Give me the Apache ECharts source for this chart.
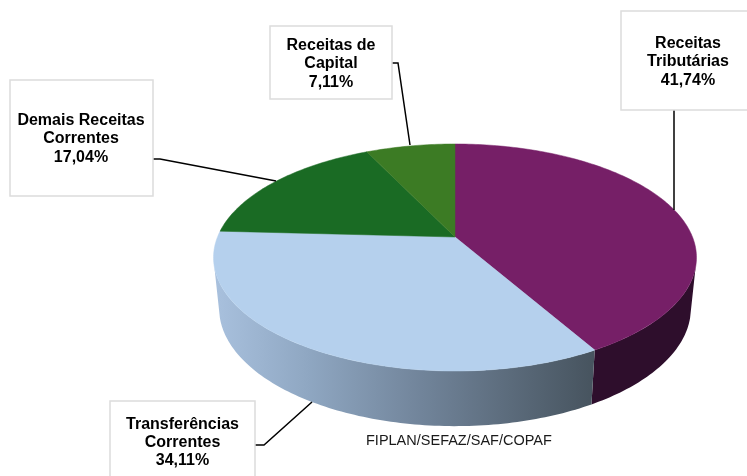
<!DOCTYPE html>
<html>
<head>
<meta charset="utf-8">
<style>
  html, body { margin: 0; padding: 0; background: #fff; }
  #chart { width: 747px; height: 476px; }
</style>
</head>
<body>
<div id="chart"></div>
<script src="https://cdn.jsdelivr.net/npm/echarts@6/dist/echarts.min.js"></script>
<script>
// dados
const categories = ['Receitas\nTributárias', 'Transferências\nCorrentes', 'Demais Receitas\nCorrentes', 'Receitas de\nCapital'];
const values = [41.74, 34.11, 17.04, 7.11];
const sourceText = 'FIPLAN/SEFAZ/SAF/COPAF';

// estilo
const topColors = ['#761f67', '#b5d0ed', '#1a6b24', '#3c7b24'];
const purpleWall = '#2e0e2c';

// caixas: [x, y, w, h, centro do texto x, centro do texto y]
const boxes = [
  [621, 11, 140, 99, 688, 62],
  [110, 401, 145, 90, 182.5, 442.5],
  [10, 80, 143, 116, 81, 139],
  [270, 26, 122, 73, 331, 64]
];
// linhas de chamada
const leaders = [
  [[674, 110], [674, 210]],
  [[255, 445], [264, 445], [312, 402]],
  [[153, 159], [160, 159], [276, 181]],
  [[392, 63], [398, 63], [410, 145]]
];

// projecao em perspectiva do disco
const cx = 455, topY = 237, k = 0.1806;
const topDisc = { a: 237.5, b: 109.8, y0: topY };
const bottomDisc = { a: 232, b: 114, y0: 287 };

function project(deg, disc) {
  const t = deg * Math.PI / 180;
  const u = Math.sin(t), v = -Math.cos(t);
  const d = 1 - k * v;
  return [cx + disc.a * u / d, disc.y0 + disc.b * v / d];
}
function arc(from, to, disc) {
  const pts = [];
  const n = Math.max(2, Math.ceil(Math.abs(to - from)));
  for (let i = 0; i <= n; i++) {
    pts.push(project(from + (to - from) * i / n, disc));
  }
  return pts;
}

const total = values.reduce((a, b) => a + b, 0);
const angles = [];
let acc = 0;
values.forEach(v => {
  angles.push([acc / total * 360, (acc + v) / total * 360]);
  acc += v;
});

function pctText(v) {
  return v.toFixed(2).replace('.', ',') + '%';
}

// parte lateral visivel: de 105 a 255 graus
function renderWall(params, api) {
  const i = params.dataIndex;
  const from = Math.max(angles[i][0], 105);
  const to = Math.min(angles[i][1], 255);
  if (to <= from) return null;
  const pts = arc(from, to, topDisc).concat(arc(to, from, bottomDisc));
  const fill = i === 0 ? purpleWall : {
    type: 'linear', global: true, x: 213, y: 0, x2: 592, y2: 0,
    colorStops: [
      { offset: 0, color: '#a9c1de' },
      { offset: 0.25, color: '#8fa7c2' },
      { offset: 0.55, color: '#71849a' },
      { offset: 1, color: '#47545f' }
    ]
  };
  return { type: 'polygon', shape: { points: pts }, style: { fill: fill } };
}

function renderTop(params, api) {
  const i = params.dataIndex;
  const pts = [[cx, topY]].concat(arc(angles[i][0], angles[i][1], topDisc));
  const c = topColors[i];
  return { type: 'polygon', shape: { points: pts }, style: { fill: c, stroke: c, lineWidth: 0.5 } };
}

function renderLabel(params, api) {
  const i = params.dataIndex;
  const b = boxes[i];
  return {
    type: 'group',
    children: [
      { type: 'polyline', shape: { points: leaders[i] }, style: { fill: null, stroke: '#000', lineWidth: 1.5 } },
      { type: 'rect', shape: { x: b[0], y: b[1], width: b[2], height: b[3] },
        style: { fill: '#fff', stroke: '#dcdcdc', lineWidth: 1.5 } },
      { type: 'text', style: {
          text: categories[i] + '\n' + pctText(api.value(0)),
          x: b[4], y: b[5], align: 'center', verticalAlign: 'middle',
          font: 'bold 16px "Liberation Sans", Arial, sans-serif',
          lineHeight: 18.3, fill: '#000'
      } }
    ]
  };
}

const chart = echarts.init(document.getElementById('chart'));
chart.setOption({
  backgroundColor: '#fff',
  animation: false,
  series: [
    { type: 'custom', coordinateSystem: 'none', renderItem: renderWall, data: values, z: 1, silent: true },
    { type: 'custom', coordinateSystem: 'none', renderItem: renderTop, data: values, z: 2, silent: true },
    { type: 'custom', coordinateSystem: 'none', renderItem: renderLabel, data: values, z: 3, silent: true }
  ],
  graphic: [{
    type: 'text', z: 4, silent: true,
    style: {
      text: sourceText, x: 366, y: 441, verticalAlign: 'middle',
      font: '14.5px "Liberation Sans", Arial, sans-serif', fill: '#1a1a1a'
    }
  }]
});
</script>
</body>
</html>
